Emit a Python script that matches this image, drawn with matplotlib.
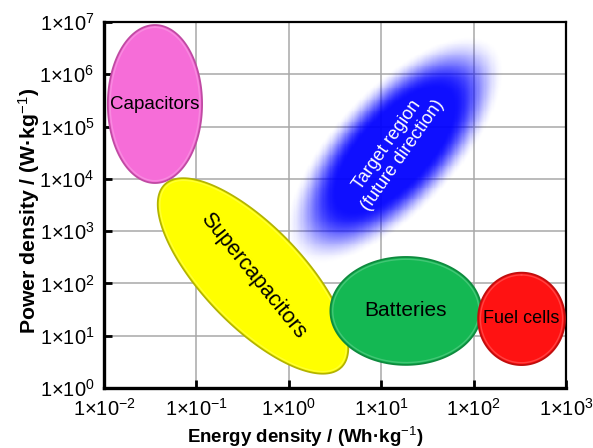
import numpy as np
import matplotlib
matplotlib.use("Agg")
import matplotlib.pyplot as plt
from matplotlib.colors import LinearSegmentedColormap

plt.rcParams['font.family'] = ['Liberation Sans', 'DejaVu Sans']
plt.rcParams['mathtext.fontset'] = 'custom'
plt.rcParams['mathtext.rm'] = 'Liberation Sans'
plt.rcParams['mathtext.it'] = 'Liberation Sans:italic'
plt.rcParams['mathtext.bf'] = 'Liberation Sans:bold'

# regions of the Ragone plot (centre in data units, half-axes in decades of energy)
names = ['Capacitors', 'Supercapacitors', 'Batteries', 'Fuel cells']
energy_c = [0.0356, 0.41, 18.5, 330.0]      # Wh/kg
power_c = [2.7e5, 139.0, 29.8, 21.0]        # W/kg
half_major = [0.855, 1.375, 0.817, 0.50]
half_minor = [0.51, 0.54, 0.584, 0.47]
tilt = [90, -46, 0, 90]
fills = ['#f66dd8', '#ffff00', '#14b853', '#ff1212']
edges = ['#c04aa3', '#b3b300', '#0e8a3e', '#c00d0d']
text_rot = [0, -51, 0, 0]
text_size = [13.5, 15.5, 15, 13]

# target region
target_E, target_P = 14.1, 3.57e4
target_major, target_minor, target_tilt = 1.05, 0.45, 47

xticks = [-2, -1, 0, 1, 2, 3]
yticks = [0, 1, 2, 3, 4, 5, 6, 7]

fig = plt.figure(figsize=(5.93, 4.48), dpi=100)
ax = fig.add_axes([104 / 593, 1 - 388 / 448, 462 / 593, 366 / 448])
ax.set_xscale('log')
ax.set_yscale('log')
ax.set_xlim(1e-2, 1e3)
ax.set_ylim(1e0, 1e7)

# how many power decades one energy decade spans on screen
pos = ax.get_position()
k = (pos.width * 593 / 5) / (pos.height * 448 / 7)


def outline(cE, cP, a, b, ang, n=200):
    t = np.linspace(0, 2 * np.pi, n)
    th = np.deg2rad(ang)
    u = a * np.cos(t)
    v = b * np.sin(t)
    dx = u * np.cos(th) - v * np.sin(th)
    dy = (u * np.sin(th) + v * np.cos(th)) * k
    return 10 ** (np.log10(cE) + dx), 10 ** (np.log10(cP) + dy)


# blurred target region
gx = np.linspace(-2, 3, 400)
gy = np.linspace(0, 7, 400)
GX, GY = np.meshgrid(gx, gy)
th = np.deg2rad(target_tilt)
dx = GX - np.log10(target_E)
dy = (GY - np.log10(target_P)) / k
u = dx * np.cos(th) + dy * np.sin(th)
v = -dx * np.sin(th) + dy * np.cos(th)
d = np.sqrt((u / target_major) ** 2 + (v / target_minor) ** 2)
val = np.clip((1.5 - d) / 0.7, 0, 1)
val = val * val * (3 - 2 * val)
cmap = LinearSegmentedColormap.from_list('blu', [(0, 0, 1, 0), (0, 0, 1, 0.94)])
ax.pcolormesh(10 ** gx, 10 ** gy, val, cmap=cmap, shading='auto', zorder=1,
              rasterized=True)
ax.text(target_E, target_P, 'Target region\n(future direction)', color='white',
        rotation=55, ha='center', va='center', fontsize=13, zorder=5,
        linespacing=1.1)

for i, nm in enumerate(names):
    xe, ye = outline(energy_c[i], power_c[i], half_major[i], half_minor[i], tilt[i])
    ax.fill(xe, ye, facecolor=fills[i], edgecolor=edges[i], linewidth=1.3, zorder=3)
    xe, ye = outline(energy_c[i], power_c[i], half_major[i] - 0.025, half_minor[i] - 0.025, tilt[i])
    ax.plot(xe, ye, color='white', alpha=0.2, linewidth=1.0, zorder=3)
    ax.text(energy_c[i], power_c[i], nm, rotation=text_rot[i], ha='center', va='center',
            fontsize=text_size[i], color='black', zorder=4)

ax.grid(True, which='major', color='#a8a8a8', linewidth=1.1, zorder=0)
ax.set_axisbelow(True)
ax.set_xticks([10.0 ** e for e in xticks])
ax.set_xticklabels([r'$1{\times}10^{%d}$' % e for e in xticks])
ax.set_yticks([10.0 ** e for e in yticks])
ax.set_yticklabels([r'$1{\times}10^{%d}$' % e for e in yticks])
ax.minorticks_off()
ax.tick_params(direction='in', length=6, width=2, labelsize=14.5, pad=7,
               top=False, right=False)

for s in ['left', 'bottom']:
    ax.spines[s].set_linewidth(2.4)
for s in ['top', 'right']:
    ax.spines[s].set_linewidth(1.6)

ax.set_xlabel(r'Energy density / (Wh·kg$^{-1}$)', fontsize=13.5, fontweight='bold')
ax.set_ylabel(r'Power density / (W·kg$^{-1}$)', fontsize=15.3, fontweight='bold')
ax.xaxis.set_label_coords(0.435, -0.1)
ax.yaxis.set_label_coords(-0.135, 0.484)

fig.savefig('out.png', dpi=100)
